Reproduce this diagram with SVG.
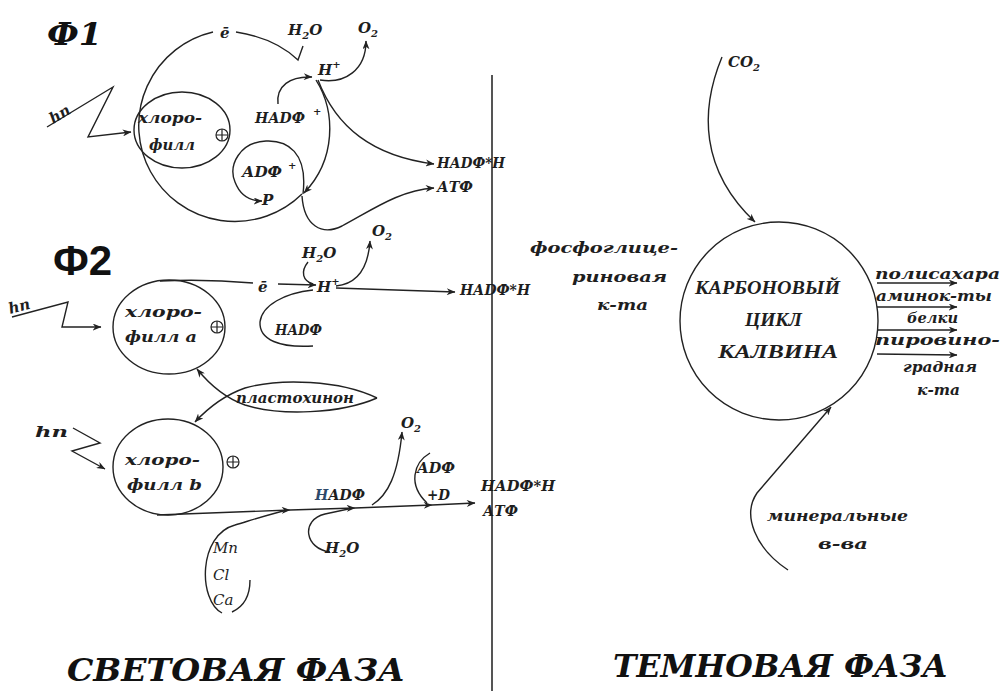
<svg xmlns="http://www.w3.org/2000/svg" width="1005" height="691" viewBox="0 0 1005 691">
<defs>
<marker id="ah" viewBox="0 0 10 8" refX="9.5" refY="4" markerWidth="9" markerHeight="7" orient="auto" markerUnits="userSpaceOnUse">
<path d="M0,0 L10,4 L0,8 L3,4 z" fill="#222"/>
</marker>
<style>
.ln{fill:none;stroke:#222;stroke-width:1.4}
.ar{marker-end:url(#ah)}
.t{font-family:'DejaVu Serif','Liberation Serif',serif;font-weight:bold;font-style:italic;font-size:15px;fill:#1e1e1e}
.tr{font-family:'DejaVu Serif','Liberation Serif',serif;font-style:italic;font-size:15px;fill:#1e1e1e}
.cyc{font-family:'Liberation Serif','DejaVu Serif',serif;font-style:italic;font-weight:bold;font-size:18px;fill:#1e1e1e}
.big{font-family:'DejaVu Serif','Liberation Serif',serif;font-weight:bold;font-style:italic;font-size:31px;fill:#111}
.sub{font-size:10px}
.plus{fill:none;stroke:#222;stroke-width:1.2}
</style>
</defs>
<rect width="1005" height="691" fill="#fff"/>

<!-- divider between the two phases -->
<path d="M492 75 L492 691" stroke="#555" stroke-width="2"/>

<g id="connectors">
  <!-- photosystem 1 -->
  <path class="ln" d="M213 32 A96 96 0 1 0 302 194"/>
  <path class="ln" d="M236 32 Q275 38 298 60 L303 46"/>
  <path class="ln ar" d="M278 104 C276 86 290 76 312 77"/>
  <path class="ln ar" d="M316 80 C336 112 336 160 304 193"/>
  <path class="ln ar" d="M320 80 C345 84 366 70 366 41"/>
  <path class="ln ar" d="M318 80 C336 127 372 156 434 164"/>
  <path class="ln ar" d="M303 194 C308 152 287 140 266 141 C240 142 228 165 235 182 C240 195 250 201 262 201"/>
  <path class="ln ar" d="M302 196 C304 226 322 236 342 226 C372 210 400 190 434 188"/>
  <path class="ln ar" d="M47 127 L113 87 L88 137 L131 132"/>
  <!-- photosystem 2 -->
  <path class="ln" d="M160 281 C200 279 230 281 253 283"/>
  <path class="ln ar" d="M278 284 L316 285"/>
  <path class="ln" d="M308 262 C300 272 303 281 313 284"/>
  <path class="ln ar" d="M336 286 C356 284 368 270 370 241"/>
  <path class="ln ar" d="M336 288 L455 292"/>
  <path class="ln" d="M313 290 C285 293 262 305 260 322 C259 340 280 348 313 346"/>
  <path class="ln ar" d="M12 317 L68 302 L62 327 L101 327"/>
  <path class="ln ar" d="M377 398 C340 414 280 416 245 405 C225 398 210 385 197 369"/>
  <path class="ln ar" d="M377 398 C340 380 280 378 245 388 C225 395 208 408 195 422"/>
  <path class="ln ar" d="M73 428 L100 443 L72 451 L105 469"/>
  <path class="ln ar" style="marker-mid:url(#ah)" d="M157 515 L290 510 L355 508 L432 505 L475 503"/>
  <path class="ln" d="M222 613 C198 600 198 535 235 525 C255 519 270 514 288 510"/>
  <path class="ln" d="M250 580 C250 596 243 607 232 612"/>
  <path class="ln" d="M330 552 C305 549 300 520 325 514 L353 508"/>
  <path class="ln ar" d="M372 505 C388 495 398 475 402 432"/>
  <path class="ln" d="M430 453 C413 463 408 485 427 503"/>
  <!-- dark phase -->
  <path class="ln ar" d="M722 57 C700 110 700 170 755 222"/>
  <path class="ln ar" d="M877 283 L957 283"/>
  <path class="ln ar" d="M877 307 L957 307"/>
  <path class="ln ar" d="M877 330 L957 330"/>
  <path class="ln ar" d="M877 354 L957 355"/>
  <path class="ln ar" d="M788 570 C755 548 742 515 757 493 L831 407"/>
</g>

<g id="ps1">
  <text class="big" x="47" y="45" textLength="55" lengthAdjust="spacingAndGlyphs">Ф1</text>
  <text class="t" transform="translate(53 124) rotate(-31)">hn</text>
  <text class="t" x="220" y="38">ē</text>
  <text class="t" x="288" y="35">H<tspan class="sub" dy="4">2</tspan><tspan dy="-4">O</tspan></text>
  <text class="t" x="358" y="33">O<tspan class="sub" dy="4">2</tspan></text>
  <text class="t" x="318" y="75">H<tspan class="sub" dy="-7">+</tspan></text>
  <text class="t" x="255" y="123" textLength="50" lengthAdjust="spacingAndGlyphs">НАDФ</text>
  <text class="t sub" x="313" y="115">+</text>
  <text class="t" x="242" y="177" textLength="40" lengthAdjust="spacingAndGlyphs">АDФ</text>
  <text class="t sub" x="288" y="169">+</text>
  <text class="t" x="262" y="205">P</text>
  <text class="t" x="437" y="168" textLength="68" lengthAdjust="spacingAndGlyphs">НАDФ*Н</text>
  <text class="t" x="437" y="192" textLength="36" lengthAdjust="spacingAndGlyphs">АТФ</text>
</g>

<g id="chlorophyll-1">
  <ellipse class="ln" cx="182" cy="130" rx="48" ry="38"/>
  <text class="t" x="138" y="123" textLength="64" lengthAdjust="spacingAndGlyphs">хлоро-</text>
  <text class="t" x="149" y="150" textLength="46" lengthAdjust="spacingAndGlyphs">филл</text>
  <circle class="plus" cx="222" cy="135" r="6"/>
  <path class="plus" d="M216 135 H228 M222 129 V141"/>
</g>

<g id="ps2">
  <text x="53" y="275" font-family="Liberation Sans, Arial, sans-serif" font-weight="bold" font-size="42" fill="#111">Ф2</text>
  <text class="t" transform="translate(10 314) rotate(-15)">hn</text>
  <text class="t" x="258" y="292">ē</text>
  <text class="t" x="317" y="292">H<tspan class="sub" dy="-7">+</tspan></text>
  <text class="t" x="302" y="258">H<tspan class="sub" dy="4">2</tspan><tspan dy="-4">O</tspan></text>
  <text class="t" x="372" y="236">O<tspan class="sub" dy="4">2</tspan></text>
  <text class="t" x="460" y="295" textLength="70" lengthAdjust="spacingAndGlyphs">НАDФ*Н</text>
  <text class="t" x="275" y="335" textLength="47" lengthAdjust="spacingAndGlyphs">НАDФ</text>
</g>

<g id="chlorophyll-a">
  <ellipse class="ln" cx="169" cy="327" rx="56" ry="47"/>
  <text class="t" x="125" y="317" textLength="77" lengthAdjust="spacingAndGlyphs">хлоро-</text>
  <text class="t" x="125" y="342" textLength="72" lengthAdjust="spacingAndGlyphs">филл  а</text>
  <circle class="plus" cx="217" cy="327" r="6"/>
  <path class="plus" d="M211 327 H223 M217 321 V333"/>
</g>

<g id="plastoquinone">
  <text class="t" x="236" y="403" font-size="13" textLength="118" lengthAdjust="spacingAndGlyphs">пластохинон</text>
</g>

<g id="chlorophyll-b">
  <ellipse class="ln" cx="168" cy="467" rx="55" ry="48"/>
  <text class="t" x="125" y="465" textLength="75" lengthAdjust="spacingAndGlyphs">хлоро-</text>
  <text class="t" x="127" y="490" textLength="75" lengthAdjust="spacingAndGlyphs">филл  b</text>
  <circle class="plus" cx="233" cy="462" r="6"/>
  <path class="plus" d="M227 462 H239 M233 456 V468"/>
  <text class="t" x="35" y="437" textLength="33" lengthAdjust="spacingAndGlyphs">hn</text>
</g>

<g id="ps2-products">
  <text class="tr" x="213" y="553">Mn</text>
  <text class="tr" x="213" y="580">Cl</text>
  <text class="tr" x="213" y="605">Ca</text>
  <text class="t" x="315" y="500" textLength="50" lengthAdjust="spacingAndGlyphs"><tspan fill="#2d4a6b">Н</tspan>АDФ</text>
  <text class="t" x="325" y="553">H<tspan class="sub" dy="4">2</tspan><tspan dy="-4">O</tspan></text>
  <text class="t" x="401" y="428">O<tspan class="sub" dy="4">2</tspan></text>
  <text class="t" x="417" y="473" textLength="38" lengthAdjust="spacingAndGlyphs">АDФ</text>
  <text class="t" x="427" y="500" textLength="23" lengthAdjust="spacingAndGlyphs">+D</text>
  <text class="t" x="481" y="491" textLength="74" lengthAdjust="spacingAndGlyphs">НАDФ*Н</text>
  <text class="t" x="483" y="516" textLength="35" lengthAdjust="spacingAndGlyphs">АТФ</text>
</g>

<g id="calvin-cycle">
  <circle class="ln" cx="779" cy="321" r="99"/>
  <text class="cyc" x="695" y="294" textLength="145" lengthAdjust="spacingAndGlyphs">КАРБОНОВЫЙ</text>
  <text class="cyc" x="745" y="326" textLength="57" lengthAdjust="spacingAndGlyphs">ЦИКЛ</text>
  <text class="cyc" x="718" y="358" textLength="120" lengthAdjust="spacingAndGlyphs">КАЛВИНА</text>
</g>

<g id="dark-inputs">
  <text class="t" x="728" y="67">CO<tspan class="sub" dy="4">2</tspan></text>
  <text class="t" x="530" y="253" textLength="148" lengthAdjust="spacingAndGlyphs">фосфоглице-</text>
  <text class="t" x="572" y="282" textLength="95" lengthAdjust="spacingAndGlyphs">риновая</text>
  <text class="t" x="597" y="310" textLength="51" lengthAdjust="spacingAndGlyphs">к-та</text>
  <text class="t" x="767" y="521" textLength="141" lengthAdjust="spacingAndGlyphs">минеральные</text>
  <text class="t" x="818" y="549" textLength="50" lengthAdjust="spacingAndGlyphs">в-ва</text>
</g>

<g id="dark-products">
  <text class="t" x="875" y="279" textLength="125" lengthAdjust="spacingAndGlyphs">полисахара</text>
  <text class="t" x="876" y="301" textLength="116" lengthAdjust="spacingAndGlyphs">аминок-ты</text>
  <text class="t" x="907" y="323" textLength="51" lengthAdjust="spacingAndGlyphs">белки</text>
  <text class="t" x="875" y="345" textLength="125" lengthAdjust="spacingAndGlyphs">пировино-</text>
  <text class="t" x="903" y="372" textLength="74" lengthAdjust="spacingAndGlyphs">градная</text>
  <text class="t" x="917" y="395" textLength="43" lengthAdjust="spacingAndGlyphs">к-та</text>
</g>

<g id="phase-titles">
  <text class="big" x="67" y="681" textLength="338" lengthAdjust="spacingAndGlyphs">СВЕТОВАЯ  ФАЗА</text>
  <text class="big" x="613" y="677" textLength="335" lengthAdjust="spacingAndGlyphs">ТЕМНОВАЯ  ФАЗА</text>
</g>
</svg>
